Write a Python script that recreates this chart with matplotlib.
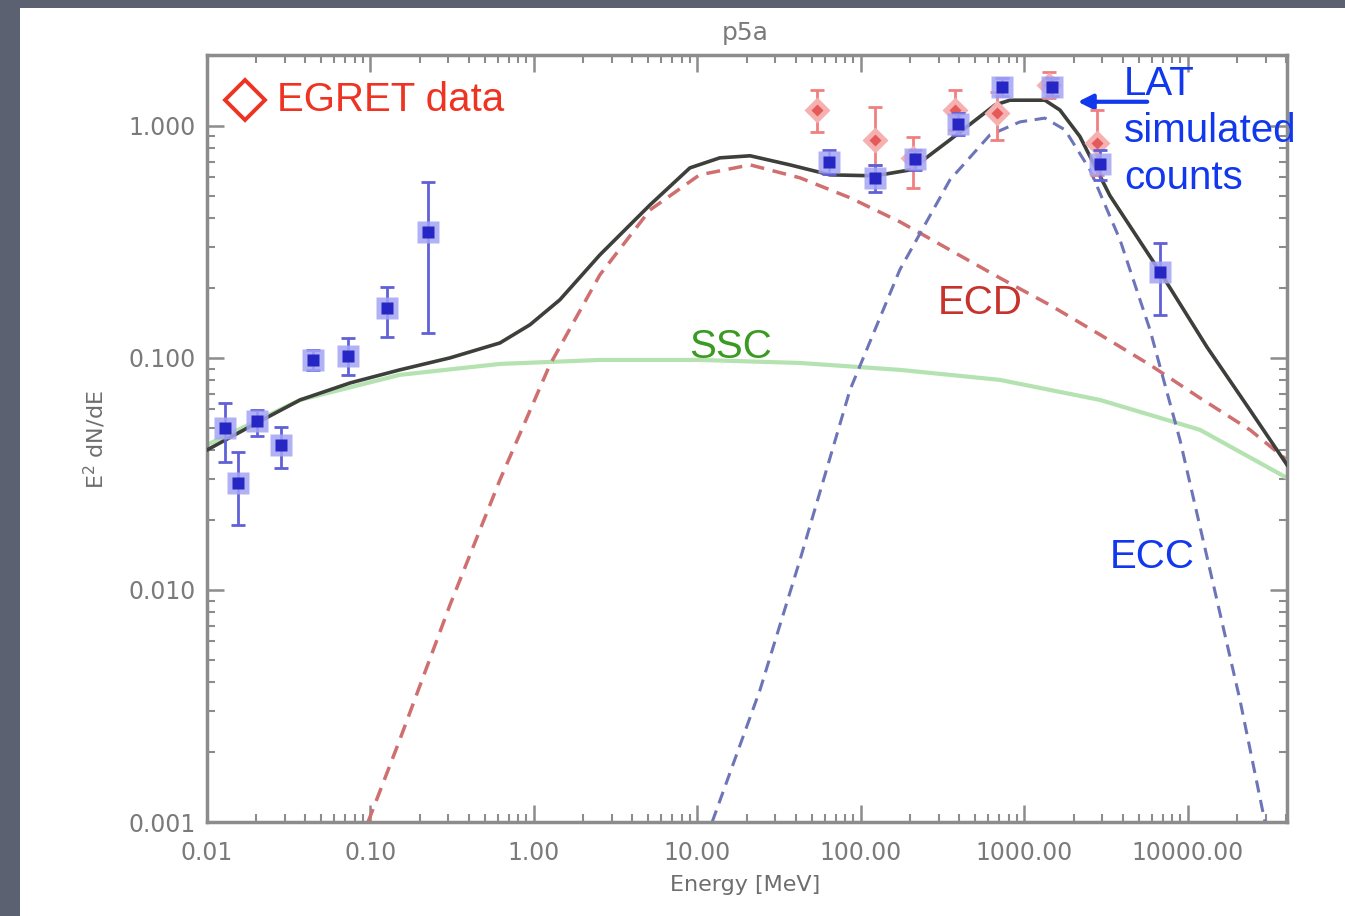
import numpy as np
import matplotlib
matplotlib.use("Agg")
import matplotlib.pyplot as plt
from matplotlib.patches import Rectangle
from matplotlib.lines import Line2D
from matplotlib.ticker import LogLocator, FuncFormatter, NullFormatter

# LAT simulated counts (blue squares)
lat_e = [0.0129, 0.0155, 0.0202, 0.0284, 0.0445, 0.0728, 0.126, 0.225,
         63.7, 122, 214, 392, 728, 1472, 2897, 6745]
lat_f = [0.0499, 0.0289, 0.0535, 0.0422, 0.098, 0.102, 0.164, 0.349,
         0.70, 0.597, 0.721, 1.02, 1.47, 1.47, 0.686, 0.235]
lat_hi = [0.064, 0.0393, 0.0597, 0.0504, 0.108, 0.122, 0.202, 0.574,
          0.788, 0.679, 0.788, 1.14, 1.61, 1.61, 0.788, 0.313]
lat_lo = [0.0356, 0.0191, 0.0461, 0.0336, 0.0888, 0.0845, 0.123, 0.128,
          0.621, 0.52, 0.646, 0.914, 1.35, 1.35, 0.585, 0.153]

# EGRET data (red diamonds)
egret_e = [53.8, 122, 208, 376, 679, 1413, 2773]
egret_f = [1.17, 0.870, 0.728, 1.17, 1.14, 1.50, 0.845]
egret_hi = [1.43, 1.20, 0.897, 1.43, 1.40, 1.71, 1.17]
egret_lo = [0.942, 0.679, 0.54, 0.961, 0.870, 1.32, 0.615]

# model curves
tot_e = [0.01, 0.0202, 0.0371, 0.075, 0.151, 0.306, 0.619, 0.946, 1.44, 2.53,
         5.12, 8.99, 13.7, 21.0, 36.8, 64.6, 122, 200, 350, 660, 815, 1334,
         1648, 2183, 3335, 6745, 13060, 23930, 40360]
tot_f = [0.0401, 0.0525, 0.0659, 0.078, 0.0888, 0.100, 0.116, 0.139, 0.178, 0.278,
         0.456, 0.659, 0.728, 0.743, 0.679, 0.615, 0.609, 0.646, 0.870, 1.23, 1.29, 1.29,
         1.17, 0.90, 0.50, 0.235, 0.1115, 0.0597, 0.0346]

ssc_e = [0.01, 0.0371, 0.151, 0.619, 2.53, 10.3, 42.4, 173, 708, 2897, 11840, 40360]
ssc_f = [0.0422, 0.0659, 0.0845, 0.0942, 0.098, 0.098, 0.0951, 0.0888, 0.0804,
         0.0659, 0.0490, 0.0304]

ecd_e = [0.0966, 0.151, 0.306, 0.619, 1.25, 2.53, 5.12, 10.3, 21.0, 42.4, 85.7,
         173, 350, 708, 1432, 2897, 5863, 11840, 23930, 40360]
ecd_f = [0.001, 0.00226, 0.0086, 0.0298, 0.0933, 0.228, 0.434, 0.615, 0.679, 0.597,
         0.490, 0.386, 0.292, 0.221, 0.169, 0.126, 0.0933, 0.0672, 0.0490, 0.0363]

ecc_e = [12.3, 24.1, 42.4, 85.7, 173, 350, 615, 938, 1334, 1770, 2518, 3840,
         5863, 8940, 13640, 20800, 29580]
ecc_f = [0.001, 0.0037, 0.0135, 0.0728, 0.240, 0.585, 0.914, 1.04, 1.08, 0.961,
         0.646, 0.323, 0.132, 0.0443, 0.0122, 0.00336, 0.001]

W, H = 1345, 916
fig = plt.figure(figsize=(W / 100, H / 100), dpi=100)
fig.patch.set_facecolor("#5b6170")
fig.patches.append(Rectangle((20 / W, 0), 1, 1 - 8 / H, transform=fig.transFigure,
                             facecolor="white", edgecolor="none", zorder=-5))

ax = fig.add_axes([207 / W, 1 - 822 / H, (1287 - 207) / W, (822 - 55) / H])
ax.set_zorder(2)
ax.patch.set_alpha(0)
ax.set_xscale("log")
ax.set_yscale("log")
ax.set_xlim(0.01, 40360)
ax.set_ylim(0.001, 2.02)

ax.plot(ssc_e, ssc_f, color="#b4e2b0", lw=3, zorder=2)
ax.plot(ecd_e, ecd_f, color="#cf6f6f", lw=2.5, ls=(0, (4, 2.5)), zorder=2)
ax.plot(ecc_e, ecc_f, color="#6d74b8", lw=2.2, ls=(0, (4, 2.5)), zorder=2)
ax.plot(tot_e, tot_f, color="#3c3f3a", lw=2.6, zorder=3)

def yerr(f, lo, hi):
    f = np.array(f)
    return [f - np.array(lo), np.array(hi) - f]

ax.errorbar(egret_e, egret_f, yerr=yerr(egret_f, egret_lo, egret_hi), fmt="none",
            ecolor="#f08080", elinewidth=2, capsize=5, capthick=2, zorder=4)
ax.plot(egret_e, egret_f, "D", ms=13, color="#f6b0b0", mec="none", zorder=4)
ax.plot(egret_e, egret_f, "D", ms=6, color="#e45a5a", mec="none", zorder=4)

ax.errorbar(lat_e, lat_f, yerr=yerr(lat_f, lat_lo, lat_hi), fmt="none",
            ecolor="#6060d8", elinewidth=2, capsize=5, capthick=2, zorder=5)
ax.plot(lat_e, lat_f, "s", ms=16, color="#a4a4f4", mec="none", alpha=0.85, zorder=5)
ax.plot(lat_e, lat_f, "s", ms=8, color="#2626c4", mec="none", zorder=6)

# axes styling
for s in ax.spines.values():
    s.set_color("#8c8c8c")
    s.set_linewidth(2.5)
ax.tick_params(which="both", direction="in", top=True, right=True, colors="#8c8c8c",
               labelcolor="#7a7a7a", labelsize=17)
ax.tick_params(which="major", length=12, width=1.8)
ax.tick_params(which="minor", length=6, width=1.5)
ax.tick_params(axis="x", pad=14)
ax.tick_params(axis="y", pad=8)
ax.xaxis.set_major_locator(LogLocator(base=10, numticks=12))
ax.xaxis.set_minor_locator(LogLocator(base=10, subs=np.arange(2, 10), numticks=12))
ax.yaxis.set_major_locator(LogLocator(base=10, numticks=12))
ax.yaxis.set_minor_locator(LogLocator(base=10, subs=np.arange(2, 10), numticks=12))
ax.xaxis.set_major_formatter(FuncFormatter(lambda v, p: "%.2f" % v))
ax.yaxis.set_major_formatter(FuncFormatter(lambda v, p: "%.3f" % v))
ax.xaxis.set_minor_formatter(NullFormatter())
ax.yaxis.set_minor_formatter(NullFormatter())

def px(x, y):
    return x / W, 1 - y / H

fig.text(*px(745, 33), "p5a", color="#7a7a7a", fontsize=18, ha="center", va="center")
fig.text(*px(745, 885), "Energy [MeV]", color="#6e6e6e", fontsize=16, ha="center", va="center")
fig.text(*px(95, 440), "E$^2$ dN/dE", color="#6e6e6e", fontsize=16, ha="center",
         va="center", rotation=90)

big = dict(fontsize=29, family=["Liberation Sans", "DejaVu Sans"])
# legend symbol for EGRET
fig.add_artist(Line2D([245 / W], [1 - 100 / H], marker="D", ms=20, mfc="none",
                      mec="#ee3322", mew=2.8, transform=fig.transFigure))
fig.text(*px(277, 100), "EGRET data", color="#ee3322", ha="left", va="center", **big)
fig.text(*px(1124, 131), "LAT\nsimulated\ncounts", color="#1238ee", ha="left",
         va="center", linespacing=1.3, **big)
fig.text(*px(980, 303), "ECD", color="#c7322c", ha="center", va="center", **big)
fig.text(*px(731, 347), "SSC", color="#3a9a22", ha="center", va="center", **big)
fig.text(*px(1152, 557), "ECC", color="#1238ee", ha="center", va="center", **big)

ax.annotate("", xy=(2040, 1.27), xytext=(5860, 1.27),
            arrowprops=dict(arrowstyle="-|>", color="#1238ee", lw=3,
                            mutation_scale=22))

fig.savefig("out.png", dpi=100)
